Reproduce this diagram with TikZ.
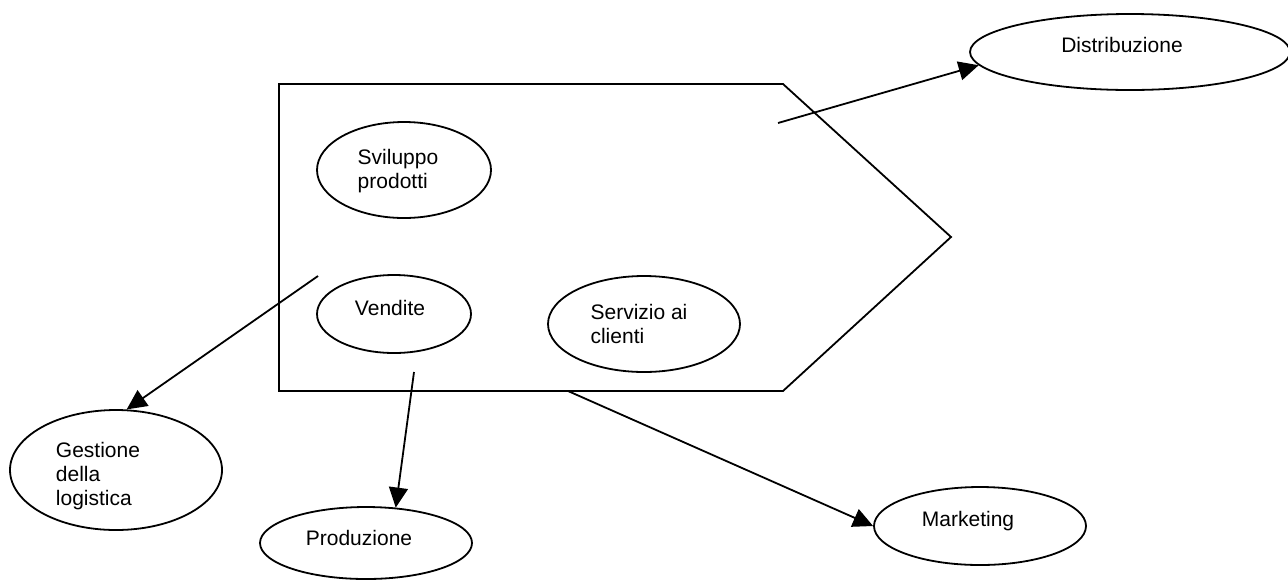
\documentclass[tikz,border=0pt]{standalone}
\usepackage{fontspec}
\setmainfont{Liberation Sans}
\usetikzlibrary{shapes.geometric, arrows.meta}
\tikzset{
    base/.style = {
        draw=black, line width=0.9pt, font=\fontsize{10.5}{12}\selectfont
    },
    % Activities (ellipse) and their texts
    activity/.style = {base, ellipse, inner sep=0pt},
    caption/.style = {font=\fontsize{10.5}{12}\selectfont, align=left, inner sep=0pt},
    % Outline and edges
    valuechain/.style = {line width=0.9pt, line join=miter},
    arrow/.style = {line width=0.9pt, -{Triangle[length=10pt, width=9.5pt]}}
}

\begin{document}
\begin{tikzpicture}[x=0.5pt, y=-0.5pt]
    \useasboundingbox (0,0) rectangle (1288,579);

    % Value chain outline (pentagon)
    \draw [valuechain] (279,84) -- (783,84) -- (951,237) -- (783,391) -- (279,391) -- cycle;

    % Activities inside the chain
    \node (svil) [activity, minimum width=87pt, minimum height=48pt] at (404,170) {};
    \node (vend) [activity, minimum width=77pt, minimum height=39pt] at (394,314) {};
    \node (serv) [activity, minimum width=96pt, minimum height=48pt] at (644,324) {};

    % Activities outside the chain
    \node (distr) [activity, minimum width=160pt, minimum height=38pt] at (1130,52) {};
    \node (gest) [activity, minimum width=106pt, minimum height=60pt] at (116,470) {};
    \node (prod) [activity, minimum width=106pt, minimum height=36pt] at (366,543) {};
    \node (mark) [activity, minimum width=106pt, minimum height=39pt] at (980,526) {};

    % Texts, set a little left and up as in the text boxes
    \node (svil-t) [caption] at ([shift={(-6,1)}]svil) {Sviluppo\\prodotti};
    \node (vend-t) [caption] at ([shift={(-4,-6)}]vend) {Vendite};
    \node (serv-t) [caption] at ([shift={(-5,0)}]serv) {Servizio ai\\clienti};
    \node (distr-t) [caption] at ([shift={(-8,-7)}]distr) {Distribuzione};
    \node (gest-t) [caption] at ([shift={(-18,6)}]gest) {Gestione\\della\\logistica};
    \node (prod-t) [caption] at ([shift={(-7,-5)}]prod) {Produzione};
    \node (mark-t) [caption] at ([shift={(-12,-5)}]mark) {Marketing};

    % Free ends of the arrows, inside the chain
    \coordinate (distrfrom) at (778,123);
    \coordinate (gestfrom) at (318,276);
    \coordinate (prodfrom) at (414,372);
    \coordinate (markfrom) at (568,391);

    \draw [arrow] (distrfrom) -- (distr.185);
    \draw [arrow] (gestfrom) -- (gest.80);
    \draw [arrow] (prodfrom) -- (prod.50);
    \draw [arrow] (markfrom) -- (mark.west);
\end{tikzpicture}
\end{document}
